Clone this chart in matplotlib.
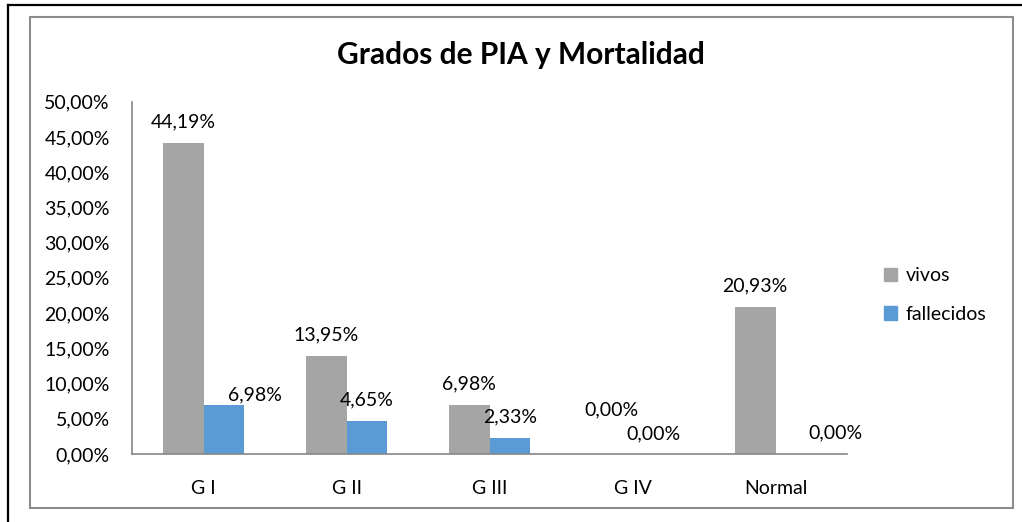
import matplotlib.pyplot as plt
import numpy as np
from matplotlib.patches import Rectangle
from matplotlib.lines import Line2D

categories = ["G I", "G II", "G III", "G IV", "Normal"]
vivos = [44.19, 13.95, 6.98, 0.00, 20.93]
fallecidos = [6.98, 4.65, 2.33, 0.00, 0.00]
y_ticks = [0, 5, 10, 15, 20, 25, 30, 35, 40, 45, 50]

# label offsets in pixels (dx, dy) from the top centre of each bar
off_vivos = [(0, 21), (0, 21), (0, 21), (-1, 44), (0, 21)]
off_fall = [(31, 10), (0, 21), (0, 21), (0, 20), (39, 21)]

GRAY = "#A5A5A5"
BLUE = "#5B9BD5"
AXIS = "#868686"
FONT = "Lato"


def pct(v):
    return f"{v:.2f}".replace(".", ",") + "%"


def main():
    plt.rcParams["font.family"] = [FONT, "DejaVu Sans"]
    fig = plt.figure(figsize=(10.22, 5.22), dpi=100)
    ax = fig.add_axes([132 / 1022, 1 - 454 / 522, (847 - 132) / 1022, (454 - 101.7) / 522])

    x = np.arange(len(categories))
    w = 0.286
    b1 = ax.bar(x - w / 2, np.array(vivos) / 100, w, color=GRAY, label="vivos")
    b2 = ax.bar(x + w / 2, np.array(fallecidos) / 100, w, color=BLUE, label="fallecidos")

    for bars, vals, offs in [(b1, vivos, off_vivos), (b2, fallecidos, off_fall)]:
        for r, v, (dx, dy) in zip(bars, vals, offs):
            ax.annotate(pct(v), (r.get_x() + r.get_width() / 2, r.get_height()),
                        xytext=(dx, dy), textcoords="offset pixels",
                        ha="center", va="center", fontsize=14, color="#000000")

    ax.set_xlim(-0.5, len(categories) - 0.5)
    ax.set_ylim(0, 0.5)
    ax.set_yticks(np.array(y_ticks) / 100)
    ax.set_yticklabels([pct(t) for t in y_ticks], fontsize=14)
    ax.set_xticks(x)
    ax.set_xticklabels(categories, fontsize=14)
    ax.tick_params(axis="y", length=0, pad=16)
    ax.tick_params(axis="x", length=0, pad=19)
    for s in ["top", "right"]:
        ax.spines[s].set_visible(False)
    for s in ["left", "bottom"]:
        ax.spines[s].set_color(AXIS)
        ax.spines[s].set_linewidth(1.2)

    fig.text(521 / 1022, 1 - 55 / 522, "Grados de PIA y Mortalidad",
             ha="center", va="center", fontsize=21.5, fontweight="bold")

    handles = [Rectangle((0, 0), 1, 1, color=GRAY), Rectangle((0, 0), 1, 1, color=BLUE)]
    fig.legend(handles, ["vivos", "fallecidos"], loc="center left",
               bbox_to_anchor=(866 / 1022, 1 - 295 / 522), frameon=False,
               fontsize=14, handlelength=0.7, handleheight=0.7,
               handletextpad=0.45, labelspacing=1.1)

    # chart frame and outer border
    fig.patches.append(Rectangle((29.5 / 1022, 1 - 508 / 522), (1012.7 - 29.5) / 1022,
                                 (508 - 17) / 522, transform=fig.transFigure,
                                 fill=False, edgecolor="#8C8C8C", linewidth=1.5))
    fig.lines.append(Line2D([8 / 1022, 8 / 1022], [0, 1 - 5 / 522], transform=fig.transFigure,
                            color="black", linewidth=1.6))
    fig.lines.append(Line2D([8 / 1022, 1], [1 - 5 / 522, 1 - 5 / 522], transform=fig.transFigure,
                            color="black", linewidth=1.6))

    fig.savefig("out.png", dpi=100)


if __name__ == "__main__":
    main()
